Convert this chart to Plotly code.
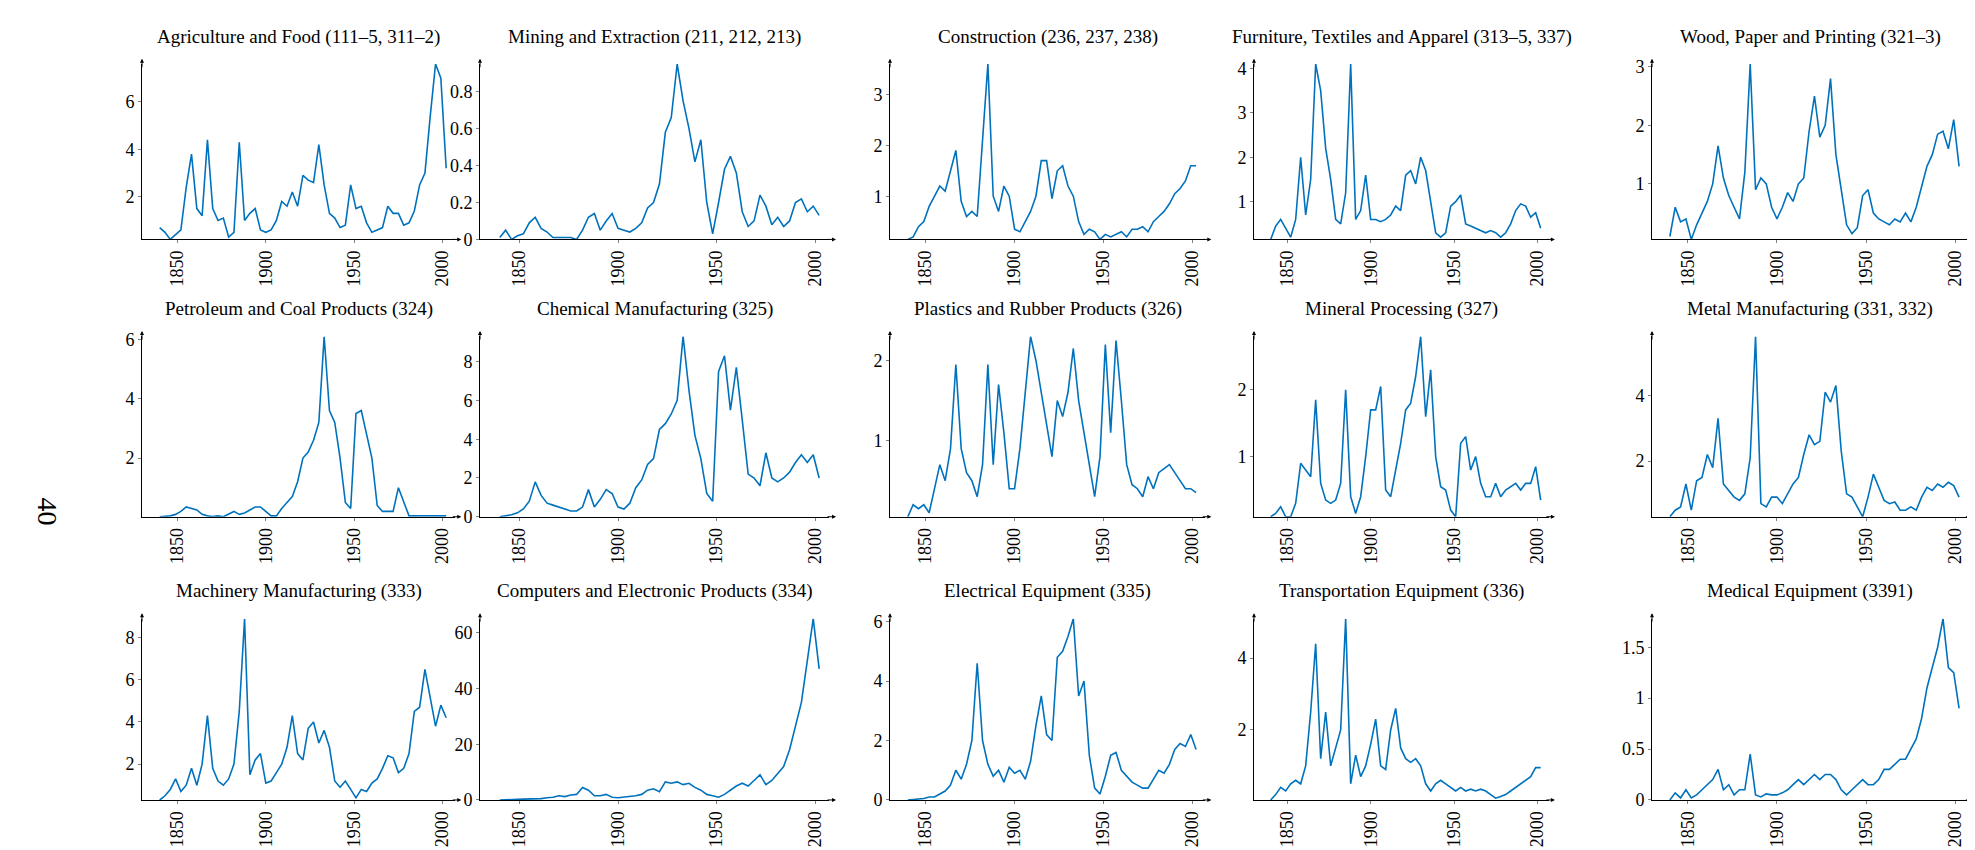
import plotly.graph_objects as go

# sample years (every third year)
years = list(range(1840, 2003, 3))

titles = ["Agriculture and Food (111–5, 311–2)", "Mining and Extraction (211, 212, 213)",
          "Construction (236, 237, 238)", "Furniture, Textiles and Apparel (313–5, 337)",
          "Wood, Paper and Printing (321–3)", "Petroleum and Coal Products (324)",
          "Chemical Manufacturing (325)", "Plastics and Rubber Products (326)",
          "Mineral Processing (327)", "Metal Manufacturing (331, 332)",
          "Machinery Manufacturing (333)", "Computers and Electronic Products (334)",
          "Electrical Equipment (335)", "Transportation Equipment (336)",
          "Medical Equipment (3391)"]

agriculture = [0.7, 0.5, 0.2, 0.4, 0.6, 2.4, 3.8, 1.5, 1.2, 4.4, 1.5, 1.0, 1.1, 0.3, 0.5, 4.3, 1.0, 1.3,
               1.5, 0.6, 0.5, 0.6, 1.0, 1.8, 1.6, 2.2, 1.6, 2.9, 2.7, 2.6, 4.2, 2.5, 1.3, 1.1, 0.7, 0.8,
               2.5, 1.5, 1.6, 0.9, 0.5, 0.6, 0.7, 1.6, 1.3, 1.3, 0.8, 0.9, 1.4, 2.5, 3.0, 5.4, 7.6, 7.0, 3.2]
mining = [0.01, 0.05, 0.0, 0.02, 0.03, 0.09, 0.12, 0.06, 0.04, 0.01, 0.01, 0.01, 0.01, 0.0, 0.05, 0.12,
          0.14, 0.05, 0.1, 0.14, 0.06, 0.05, 0.04, 0.06, 0.09, 0.17, 0.2, 0.3, 0.58, 0.66, 0.95, 0.75,
          0.6, 0.42, 0.54, 0.2, 0.03, 0.2, 0.38, 0.45, 0.36, 0.15, 0.07, 0.1, 0.24, 0.18, 0.08, 0.12,
          0.07, 0.1, 0.2, 0.22, 0.15, 0.18, 0.13]
construction = [0.15, 0.2, 0.4, 0.5, 0.8, 1.0, 1.2, 1.1, 1.5, 1.9, 0.9, 0.6, 0.7, 0.6, 2.1, 3.6, 1.0,
                0.7, 1.2, 1.0, 0.35, 0.3, 0.5, 0.7, 1.0, 1.7, 1.7, 0.95, 1.5, 1.6, 1.2, 1.0, 0.5, 0.25,
                0.35, 0.3, 0.15, 0.25, 0.2, 0.25, 0.3, 0.2, 0.35, 0.35, 0.4, 0.3, 0.5, 0.6, 0.7, 0.85,
                1.05, 1.15, 1.3, 1.6, 1.6]
furniture = [0.15, 0.45, 0.6, 0.4, 0.2, 0.6, 2.0, 0.7, 1.5, 4.1, 3.5, 2.2, 1.5, 0.6, 0.5, 1.2, 4.1, 0.6,
             0.8, 1.6, 0.6, 0.6, 0.55, 0.6, 0.7, 0.9, 0.8, 1.6, 1.7, 1.4, 2.0, 1.7, 1.0, 0.3, 0.2, 0.3,
             0.9, 1.0, 1.15, 0.5, 0.45, 0.4, 0.35, 0.3, 0.35, 0.3, 0.2, 0.3, 0.5, 0.8, 0.95, 0.9, 0.65,
             0.75, 0.4]
wood = [0.1, 0.6, 0.35, 0.4, 0.05, 0.3, 0.5, 0.7, 1.0, 1.65, 1.1, 0.8, 0.6, 0.4, 1.2, 3.05, 0.9, 1.1,
        1.0, 0.6, 0.4, 0.6, 0.85, 0.7, 1.0, 1.1, 1.9, 2.5, 1.8, 2.0, 2.8, 1.5, 0.9, 0.3, 0.15, 0.25, 0.8,
        0.9, 0.5, 0.4, 0.35, 0.3, 0.4, 0.35, 0.5, 0.35, 0.6, 0.95, 1.3, 1.5, 1.85, 1.9, 1.6, 2.1, 1.3]
petroleum = [0.02, 0.03, 0.05, 0.1, 0.2, 0.35, 0.3, 0.25, 0.1, 0.05, 0.03, 0.05, 0.02, 0.1, 0.2, 0.1,
             0.15, 0.25, 0.35, 0.35, 0.2, 0.05, 0.05, 0.3, 0.5, 0.7, 1.2, 2.0, 2.2, 2.6, 3.2, 6.1, 3.6,
             3.2, 2.0, 0.5, 0.3, 3.5, 3.6, 2.8, 2.0, 0.4, 0.2, 0.2, 0.2, 1.0, 0.5, 0.05, 0.05, 0.05,
             0.05, 0.05, 0.05, 0.05, 0.05]
chemical = [0.0, 0.05, 0.1, 0.2, 0.4, 0.8, 1.8, 1.1, 0.7, 0.6, 0.5, 0.4, 0.3, 0.3, 0.5, 1.4, 0.5, 0.9,
            1.4, 1.2, 0.5, 0.4, 0.7, 1.5, 1.9, 2.7, 3.0, 4.5, 4.8, 5.3, 6.0, 9.3, 6.5, 4.2, 3.0, 1.2,
            0.8, 7.5, 8.3, 5.5, 7.7, 5.0, 2.2, 2.0, 1.6, 3.3, 2.0, 1.8, 2.0, 2.3, 2.8, 3.2, 2.8, 3.2, 2.0]
plastics = [0.05, 0.2, 0.15, 0.2, 0.1, 0.4, 0.7, 0.5, 0.9, 1.95, 0.9, 0.6, 0.5, 0.3, 0.7, 1.95, 0.7, 1.7,
            1.1, 0.4, 0.4, 0.9, 1.6, 2.3, 2.0, 1.6, 1.2, 0.8, 1.5, 1.3, 1.6, 2.15, 1.5, 1.1, 0.7, 0.3,
            0.8, 2.2, 1.1, 2.25, 1.5, 0.7, 0.45, 0.4, 0.3, 0.55, 0.4, 0.6, 0.65, 0.7, 0.6, 0.5, 0.4,
            0.4, 0.35]
mineral = [0.1, 0.15, 0.25, 0.1, 0.1, 0.3, 0.9, 0.8, 0.7, 1.85, 0.6, 0.35, 0.3, 0.35, 0.6, 2.0, 0.4,
           0.15, 0.4, 1.0, 1.7, 1.7, 2.05, 0.5, 0.4, 0.8, 1.2, 1.7, 1.8, 2.2, 2.8, 1.6, 2.3, 1.0, 0.55,
           0.5, 0.2, 0.1, 1.2, 1.3, 0.8, 1.0, 0.6, 0.4, 0.4, 0.6, 0.4, 0.5, 0.55, 0.6, 0.5, 0.6, 0.6,
           0.85, 0.35]
metal = [0.3, 0.5, 0.6, 1.3, 0.5, 1.4, 1.5, 2.2, 1.8, 3.3, 1.3, 1.1, 0.9, 0.8, 1.0, 2.1, 5.8, 0.7, 0.6,
         0.9, 0.9, 0.7, 1.0, 1.3, 1.5, 2.2, 2.8, 2.5, 2.6, 4.1, 3.8, 4.3, 2.3, 1.0, 0.9, 0.6, 0.3, 0.9,
         1.6, 1.2, 0.8, 0.7, 0.75, 0.5, 0.5, 0.6, 0.5, 0.9, 1.2, 1.1, 1.3, 1.2, 1.35, 1.25, 0.9]
machinery = [0.3, 0.5, 0.8, 1.3, 0.7, 1.0, 1.8, 1.0, 2.0, 4.3, 1.8, 1.2, 1.0, 1.3, 2.0, 4.5, 8.9, 1.5,
             2.2, 2.5, 1.1, 1.2, 1.6, 2.0, 2.8, 4.3, 2.5, 2.2, 3.7, 4.0, 3.0, 3.6, 2.8, 1.2, 0.9, 1.2,
             0.8, 0.4, 0.8, 0.7, 1.1, 1.3, 1.8, 2.4, 2.3, 1.6, 1.8, 2.5, 4.5, 4.7, 6.5, 5.2, 3.8, 4.8, 4.2]
computers = [0, 0, 0.1, 0.2, 0.3, 0.3, 0.4, 0.5, 0.8, 1.0, 1.5, 1.2, 1.8, 2.0, 4.5, 3.5, 1.5, 1.5, 2.0,
             1.0, 0.8, 1.0, 1.3, 1.5, 2.0, 3.5, 4.0, 3.0, 6.5, 6.0, 6.5, 5.5, 6.0, 4.5, 3.5, 2.0, 1.5,
             1.0, 2.0, 3.5, 5.0, 6.0, 5.0, 7.0, 9.0, 5.5, 7.0, 9.5, 12, 18, 26, 35, 50, 65, 47]
electrical = [0.0, 0.02, 0.05, 0.05, 0.1, 0.1, 0.2, 0.3, 0.5, 1.0, 0.7, 1.2, 2.0, 4.6, 2.0, 1.2, 0.8,
              1.0, 0.6, 1.1, 0.9, 1.0, 0.7, 1.3, 2.5, 3.5, 2.2, 2.0, 4.8, 5.0, 5.5, 6.1, 3.5, 4.0, 1.5,
              0.4, 0.2, 0.8, 1.5, 1.6, 1.0, 0.8, 0.6, 0.5, 0.4, 0.4, 0.7, 1.0, 0.9, 1.2, 1.7, 1.9, 1.8,
              2.2, 1.7]
transport = [0.05, 0.2, 0.4, 0.3, 0.5, 0.6, 0.5, 1.0, 2.5, 4.4, 1.2, 2.5, 1.0, 1.5, 2.0, 5.1, 0.5, 1.3,
             0.7, 1.0, 1.6, 2.3, 1.0, 0.9, 2.0, 2.6, 1.5, 1.2, 1.1, 1.2, 1.0, 0.5, 0.3, 0.5, 0.6, 0.5,
             0.4, 0.3, 0.4, 0.3, 0.35, 0.3, 0.35, 0.3, 0.2, 0.1, 0.15, 0.2, 0.3, 0.4, 0.5, 0.6, 0.7,
             0.95, 0.95]
medical = [0.0, 0.07, 0.02, 0.1, 0.02, 0.05, 0.1, 0.15, 0.2, 0.3, 0.1, 0.15, 0.05, 0.1, 0.1, 0.45, 0.05,
           0.03, 0.06, 0.05, 0.05, 0.07, 0.1, 0.15, 0.2, 0.15, 0.2, 0.25, 0.2, 0.25, 0.25, 0.2, 0.1,
           0.05, 0.1, 0.15, 0.2, 0.15, 0.15, 0.2, 0.3, 0.3, 0.35, 0.4, 0.4, 0.5, 0.6, 0.8, 1.1, 1.3,
           1.5, 1.78, 1.3, 1.25, 0.9]

series = [agriculture, mining, construction, furniture, wood, petroleum, chemical, plastics,
          mineral, metal, machinery, computers, electrical, transport, medical]
dticks = [2, 0.2, 1, 1, 1, 2, 2, 1, 1, 2, 2, 20, 2, 2, 0.5]

W, H = 1975, 850
col_px = [(134, 447), (472, 821), (882, 1197), (1246, 1541), (1644, 1960)]
row_px = [(50, 229), (328, 512), (616, 801)]
font = dict(family="Liberation Serif", size=19, color="black")
tfont = dict(family="Liberation Serif", size=18, color="black")
blue = "#0072bd"

fig = go.Figure()
annotations = []
for i, (vals, title) in enumerate(zip(series, titles)):
    r, c = divmod(i, 5)
    n = i + 1
    xa = "x" if n == 1 else f"x{n}"
    ya = "y" if n == 1 else f"y{n}"
    fig.add_trace(go.Scatter(x=years, y=vals, mode="lines", line=dict(color=blue, width=1.6),
                             xaxis=xa, yaxis=ya, showlegend=False))
    x0, x1 = col_px[c]
    y0, y1 = row_px[r]
    common = dict(showline=True, linecolor="black", linewidth=1, ticks="outside", ticklen=3,
                  tickcolor="gray", showgrid=False, zeroline=False, tickfont=tfont)
    fig.layout[xa.replace("x", "xaxis")] = dict(
        domain=[x0 / W, x1 / W], anchor=ya, range=[1830, 2007],
        tickvals=[1850, 1900, 1950, 2000], tickangle=-90, **common)
    fig.layout[ya.replace("y", "yaxis")] = dict(
        domain=[1 - y1 / H, 1 - y0 / H], anchor=xa, range=[min(vals), max(vals)],
        dtick=dticks[i], **common)
    annotations.append(dict(text=title, x=(x0 + x1) / 2 / W, y=1 - (y0 - 28) / H,
                            xref="paper", yref="paper", showarrow=False, font=font,
                            xanchor="center", yanchor="middle"))
    # arrow heads at the axis ends
    annotations.append(dict(text="", xref=f"{xa} domain", yref=f"{ya} domain", x=1.02, y=0,
                            ax=-10, ay=0, showarrow=True, arrowhead=2, arrowsize=0.8,
                            arrowwidth=1, arrowcolor="black"))
    annotations.append(dict(text="", xref=f"{xa} domain", yref=f"{ya} domain", x=0, y=1.03,
                            ax=0, ay=10, showarrow=True, arrowhead=2, arrowsize=0.8,
                            arrowwidth=1, arrowcolor="black"))

annotations.append(dict(text="40", x=22 / W, y=1 - 506 / H, xref="paper", yref="paper",
                        showarrow=False, textangle=90,
                        font=dict(family="Liberation Serif", size=28, color="black")))

fig.update_layout(width=W, height=H, margin=dict(l=0, r=0, t=0, b=0),
                  plot_bgcolor="white", paper_bgcolor="white", annotations=annotations)
fig.write_html("out.html")
